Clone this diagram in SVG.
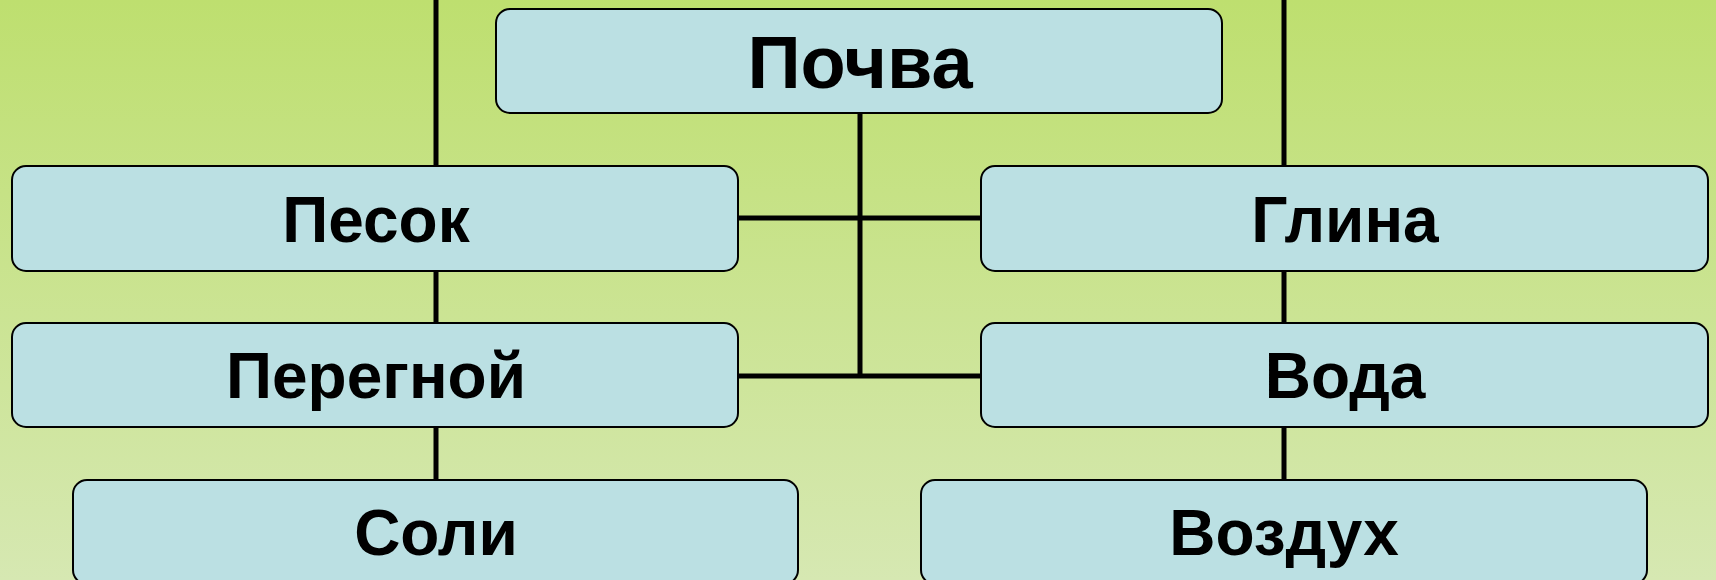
<svg xmlns="http://www.w3.org/2000/svg" width="1716" height="580" viewBox="0 0 1716 580">
<defs>
<linearGradient id="bg" x1="0" y1="0" x2="0" y2="1">
<stop offset="0" stop-color="#bedf6f"/>
<stop offset="1" stop-color="#d6e8b2"/>
</linearGradient>
<style>
.box{fill:#bbe0e3;stroke:#000;stroke-width:2}
.lbl{font-family:"Liberation Sans",Arial,sans-serif;font-weight:bold;font-size:64px;fill:#000;text-anchor:middle}
.big{font-size:74px}
.con{stroke:#000;stroke-width:5;fill:none}
</style>
</defs>
<rect x="0" y="0" width="1716" height="580" fill="url(#bg)"/>
<g id="connectors">
<line class="con" x1="436" y1="0" x2="436" y2="480"/>
<line class="con" x1="1284" y1="0" x2="1284" y2="480"/>
<line class="con" x1="860" y1="113" x2="860" y2="378"/>
<line class="con" x1="738" y1="218" x2="981" y2="218"/>
<line class="con" x1="738" y1="376" x2="981" y2="376"/>
</g>
<g id="pochva"><rect class="box" x="496" y="9" width="726" height="104" rx="14"/><text class="lbl big" x="860" y="88">Почва</text></g>
<g id="pesok"><rect class="box" x="12" y="166" width="726" height="105" rx="14"/><text class="lbl" x="376" y="242">Песок</text></g>
<g id="glina"><rect class="box" x="981" y="166" width="727" height="105" rx="14"/><text class="lbl" x="1345" y="242">Глина</text></g>
<g id="peregnoy"><rect class="box" x="12" y="323" width="726" height="104" rx="14"/><text class="lbl" x="376" y="398">Перегной</text></g>
<g id="voda"><rect class="box" x="981" y="323" width="727" height="104" rx="14"/><text class="lbl" x="1345" y="398">Вода</text></g>
<g id="soli"><rect class="box" x="73" y="480" width="725" height="104" rx="14"/><text class="lbl" x="436" y="555">Соли</text></g>
<g id="vozduh"><rect class="box" x="921" y="480" width="726" height="104" rx="14"/><text class="lbl" x="1284" y="555">Воздух</text></g>
</svg>
